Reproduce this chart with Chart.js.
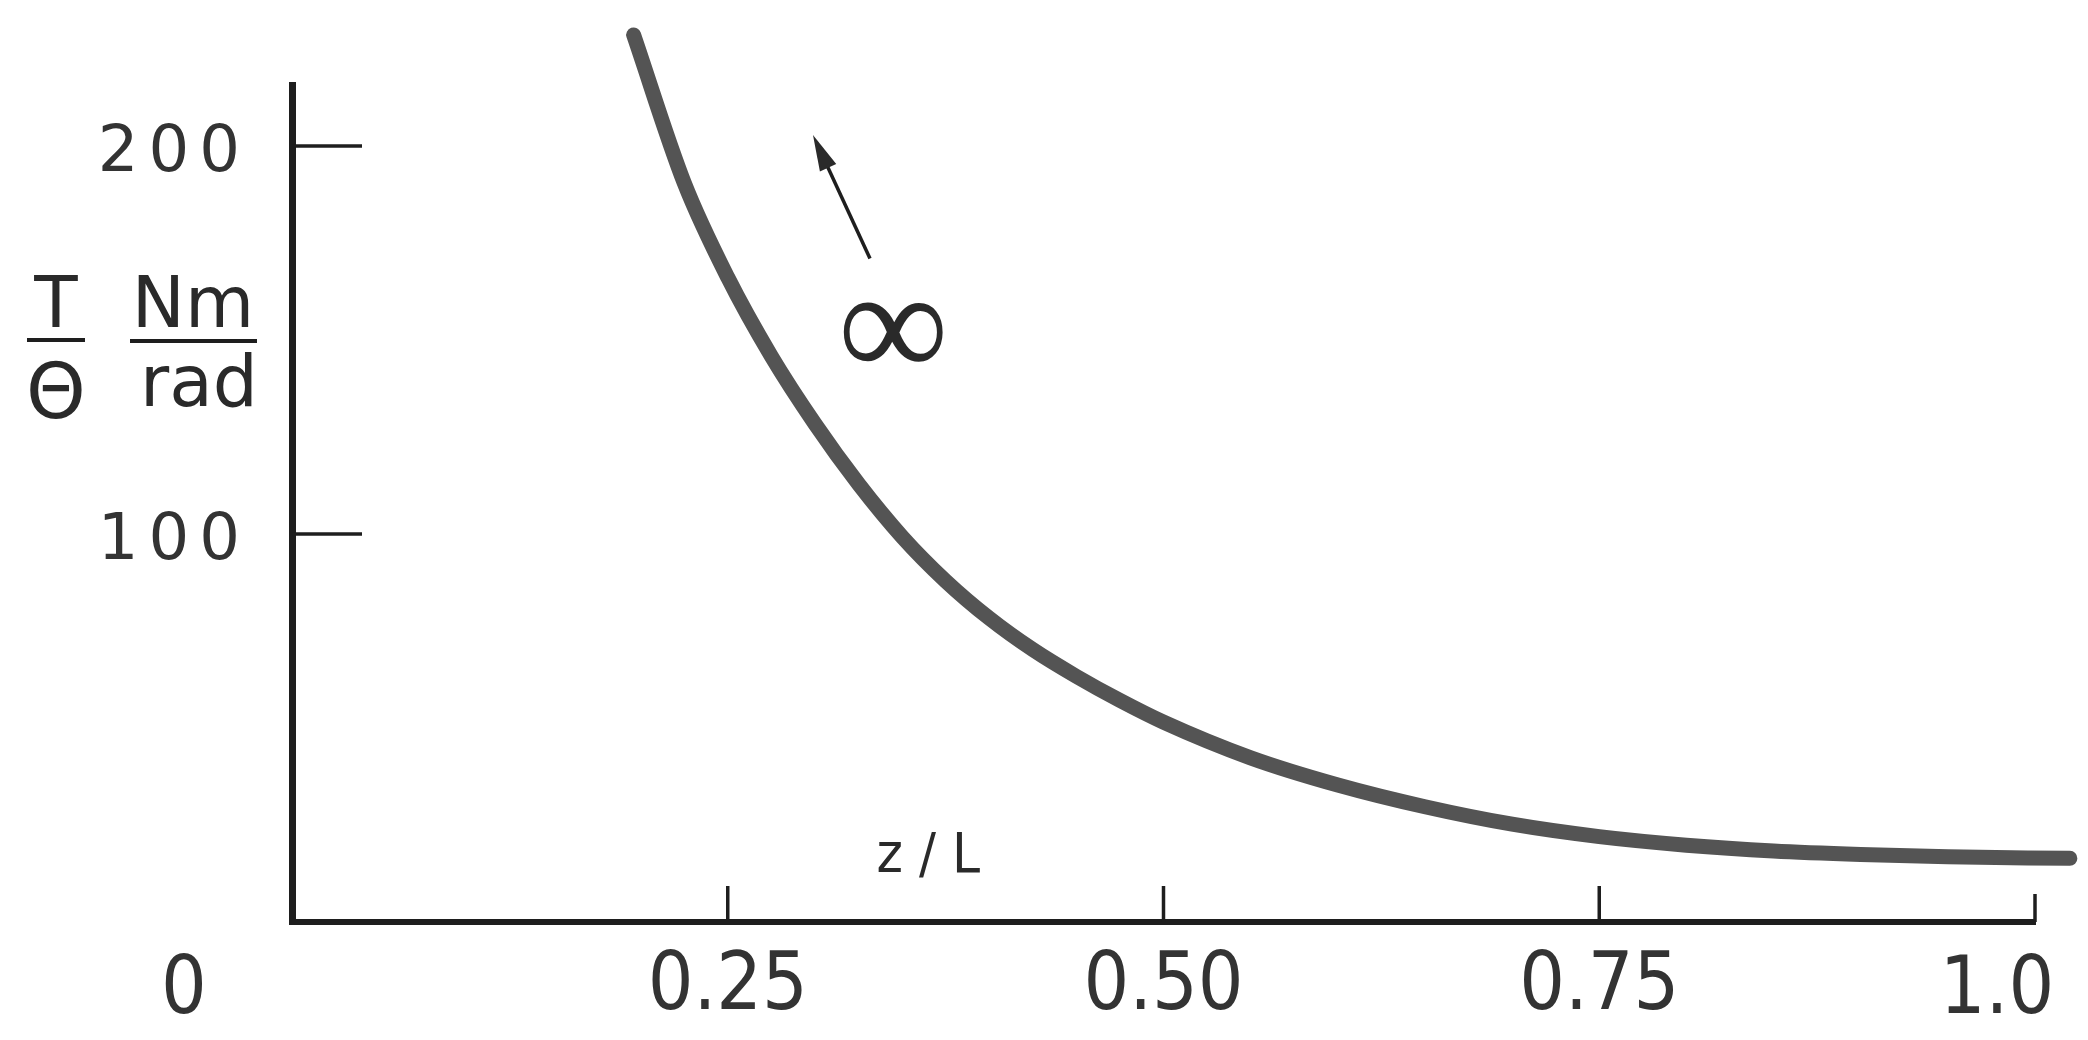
<!DOCTYPE html>
<html><head><meta charset="utf-8">
<script src="https://cdn.jsdelivr.net/npm/chart.js@4/dist/chart.umd.min.js"></script>
<style>html,body{margin:0;padding:0;background:#fff;overflow:hidden}#wrap{width:2088px;height:1040px}</style>
</head><body><div id="wrap"><canvas id="c" width="2088" height="1040"></canvas></div>
<script>
// z/L positions along the shaft
const zOverL = [0.196,0.225,0.250,0.275,0.300,0.325,0.350,0.375,0.400,0.425,0.450,0.475,0.500,0.550,0.600,0.650,0.700,0.750,0.800,0.850,0.900,0.950,1.020];
// T/Θ in Nm/rad
const stiffness = [228.6,190.5,166.1,145.8,128.4,112.9,99.3,87.9,78.3,70.2,63.3,57.1,51.5,42.3,35.3,29.7,25.2,22.0,19.8,18.3,17.4,16.8,16.4];
const xTickValues = [0, 0.25, 0.5, 0.75, 1.0];
const xTickLabels = ['0', '0.25', '0.50', '0.75', '1.0'];
const yTickValues = [100, 200];
const yTickLabels = ['100', '200'];
const xAxisTitle = 'z/L';
const yTitleTop = ['T', 'Nm'];
const yTitleBottom = ['Θ', 'rad'];
const curveLabel = '∞';

const NARROW = "'Liberation Sans Narrow','DejaVu Sans Condensed','Arial Narrow',sans-serif";
const SANS = "'DejaVu Sans',sans-serif";
const INK = '#1e1e1e';

const spacing = {
  id: 'spacing',
  afterUpdate(chart) {
    const s = chart.scales.y;
    if (s && !s._spaced) {
      const orig = s.drawLabels.bind(s);
      s.drawLabels = function (ca) {
        const c = this.ctx; const prev = c.letterSpacing;
        c.letterSpacing = '10px'; orig(ca); c.letterSpacing = prev;
      };
      s._spaced = true;
    }
  }
};

const extras = {
  id: 'extras',
  afterDraw(chart) {
    const ctx = chart.ctx, xs = chart.scales.x, ys = chart.scales.y;
    const x0 = xs.getPixelForValue(0), y0 = ys.getPixelForValue(0);
    ctx.save();
    ctx.strokeStyle = INK; ctx.fillStyle = INK; ctx.lineCap = 'butt';
    // x tick marks pointing up
    ctx.lineWidth = 3.5;
    xTickValues.forEach(v => {
      if (v === 0) return;
      const px = xs.getPixelForValue(v);
      ctx.beginPath(); ctx.moveTo(px, y0); ctx.lineTo(px, y0 - (v === 1 ? 28 : 36)); ctx.stroke();
    });
    // y tick marks pointing right
    yTickValues.forEach(v => {
      const py = ys.getPixelForValue(v);
      ctx.beginPath(); ctx.moveTo(x0, py); ctx.lineTo(x0 + 70, py); ctx.stroke();
    });
    // end labels "0" and "1.0", set off from their ticks as in the original
    ctx.fillStyle = '#333';
    ctx.font = '80px ' + NARROW;
    ctx.textAlign = 'center'; ctx.textBaseline = 'alphabetic';
    ctx.fillText(xTickLabels[0], x0 - 108, y0 + 91);
    ctx.fillText(xTickLabels[4], xs.getPixelForValue(1) - 38, y0 + 91);
    // y axis title as two fractions
    const midY = ys.getPixelForValue(150);
    const cx1 = chart.chartArea.left - 236, cx2 = chart.chartArea.left - 99;
    ctx.fillStyle = '#2a2a2a';
    ctx.font = '71px ' + SANS;
    ctx.fillText(yTitleTop[0], cx1, midY - 13);
    ctx.fillText(yTitleTop[1], cx2, midY - 13);
    ctx.font = '76px ' + SANS;
    ctx.fillText(yTitleBottom[0], cx1, midY + 78);
    ctx.font = '71px ' + SANS;
    ctx.fillText(yTitleBottom[1], cx2 + 6, midY + 66);
    ctx.lineWidth = 4;
    ctx.beginPath(); ctx.moveTo(cx1 - 29, midY); ctx.lineTo(cx1 + 29, midY); ctx.stroke();
    ctx.beginPath(); ctx.moveTo(cx2 - 63, midY + 1); ctx.lineTo(cx2 + 64, midY + 1); ctx.stroke();
    // x axis title
    ctx.font = '56px ' + NARROW;
    ctx.letterSpacing = '16px';
    ctx.fillText(xAxisTitle, xs.getPixelForValue(0.365) + 8, ys.getPixelForValue(13));
    ctx.letterSpacing = '0px';
    // infinity label and arrow
    ctx.font = '155px ' + "'Liberation Serif','DejaVu Serif',serif";
    ctx.textBaseline = 'middle';
    ctx.fillText(curveLabel, xs.getPixelForValue(0.345), ys.getPixelForValue(151));
    const tx = xs.getPixelForValue(0.3316), ty = ys.getPixelForValue(171);
    const hx = xs.getPixelForValue(0.2989), hy = ys.getPixelForValue(202.8);
    const ang = Math.atan2(hy - ty, hx - tx);
    ctx.lineWidth = 3.5;
    ctx.beginPath(); ctx.moveTo(tx, ty); ctx.lineTo(hx - 20 * Math.cos(ang), hy - 20 * Math.sin(ang)); ctx.stroke();
    ctx.beginPath();
    ctx.moveTo(hx, hy);
    ctx.lineTo(hx - 36 * Math.cos(ang) + 9 * Math.sin(ang), hy - 36 * Math.sin(ang) - 9 * Math.cos(ang));
    ctx.lineTo(hx - 36 * Math.cos(ang) - 9 * Math.sin(ang), hy - 36 * Math.sin(ang) + 9 * Math.cos(ang));
    ctx.closePath(); ctx.fill();
    ctx.restore();
  }
};

new Chart(document.getElementById('c'), {
  type: 'line',
  data: {
    datasets: [{
      data: zOverL.map((z, i) => ({ x: z, y: stiffness[i] })),
      borderColor: '#545454',
      borderWidth: 15,
      borderCapStyle: 'round',
      borderJoinStyle: 'round',
      pointRadius: 0,
      cubicInterpolationMode: 'monotone',
      fill: false,
      clip: false
    }]
  },
  options: {
    responsive: false,
    animation: false,
    devicePixelRatio: 1,
    layout: { padding: { top: 85, right: 53, left: 0, bottom: 0 } },
    plugins: { legend: { display: false }, tooltip: { enabled: false } },
    scales: {
      x: {
        type: 'linear', min: 0, max: 1.0,
        afterBuildTicks: s => { s.ticks = xTickValues.map(v => ({ value: v })); },
        afterFit: s => { s.height = 118; s.paddingLeft = 0; s.paddingRight = 0; },
        ticks: {
          autoSkip: false, maxRotation: 0, padding: 18, color: '#333',
          font: { size: 80, family: NARROW },
          callback: v => (v === 0 || v === 1 ? '' : xTickLabels[xTickValues.indexOf(v)])
        },
        grid: { drawOnChartArea: false, drawTicks: false },
        border: { display: true, color: INK, width: 6 }
      },
      y: {
        type: 'linear', min: 0, max: 215.7,
        afterBuildTicks: s => { s.ticks = yTickValues.map(v => ({ value: v })); },
        afterFit: s => { s.width = 292; s.paddingTop = 0; s.paddingBottom = 0; },
        ticks: {
          padding: 42, color: '#333', labelOffset: 8,
          font: { size: 64, family: SANS },
          callback: v => yTickLabels[yTickValues.indexOf(v)]
        },
        grid: { drawOnChartArea: false, drawTicks: false },
        border: { display: true, color: INK, width: 7 }
      }
    }
  },
  plugins: [spacing, extras]
});
</script></body></html>
